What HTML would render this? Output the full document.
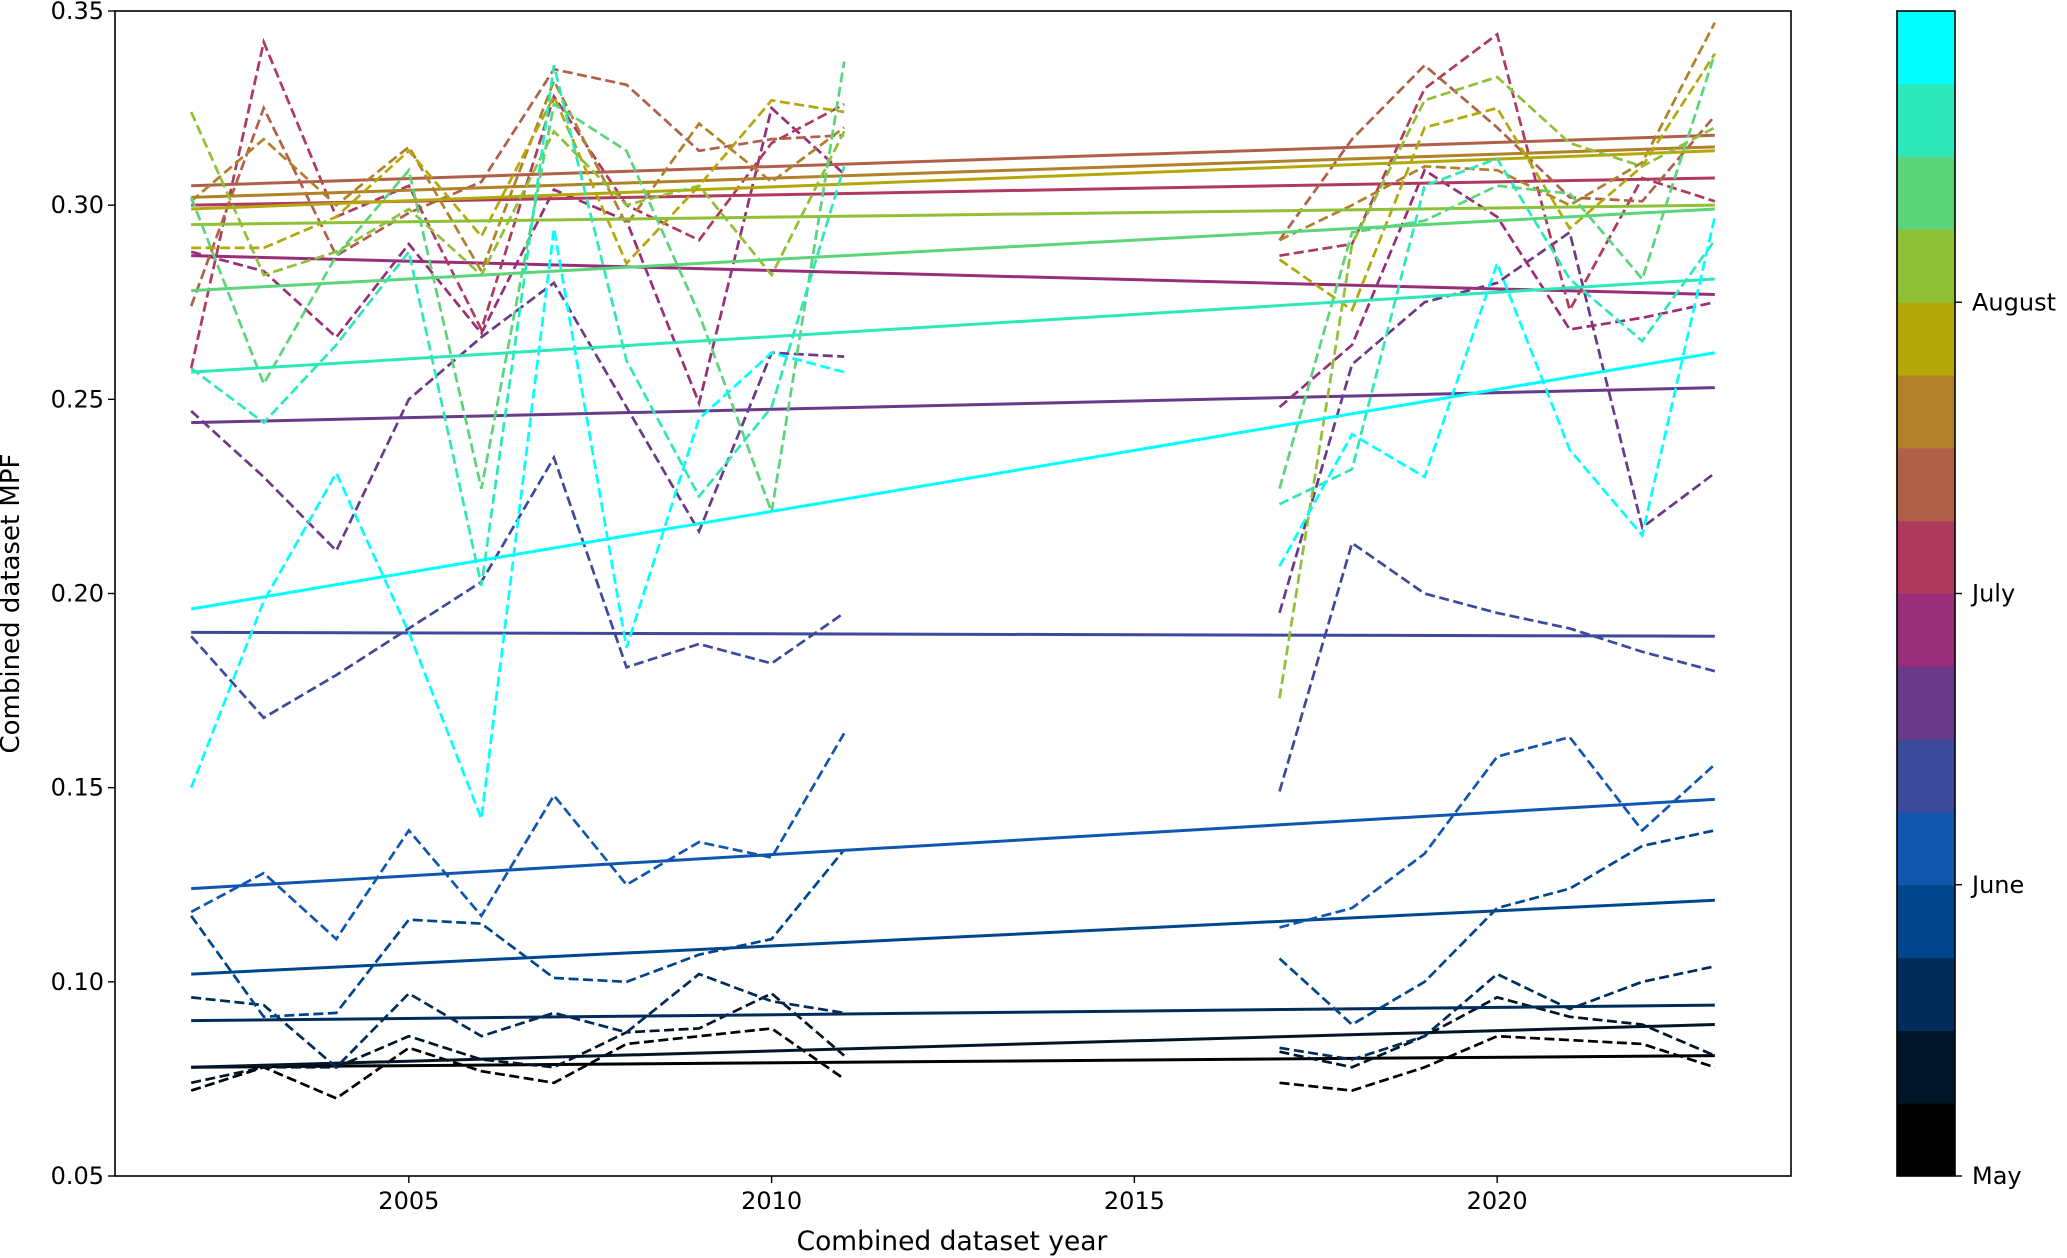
<!DOCTYPE html>
<html><head><meta charset="utf-8"><style>
body{margin:0;background:#fff;}
svg{display:block;font-family:"DejaVu Sans","Liberation Sans",sans-serif;}
</style></head><body>
<svg id="chart" width="2067" height="1258" viewBox="0 0 2067 1258"></svg>
<script>
const yearsA=[2002,2003,2004,2005,2006,2007,2008,2009,2010,2011];
const yearsB=[2017,2018,2019,2020,2021,2022,2023];
const seriesNames=["may-w1","may-w2","may-w3","may-w4","june-w1","june-w2","june-w3","june-w4","july-w1","july-w2","july-w3","july-w4","aug-w1","aug-w2","aug-w3","aug-w4"];
const seriesColors=["#000000","#001628","#002c5a","#00468c","#1055ae","#3d4a9c","#6a3a8a","#982e78","#b03a5e","#b06048","#b0802a","#b3a70a","#90c035","#5bd47a","#2de8b9","#00ffff"];
const valsA=[
[0.072,0.078,0.070,0.083,0.077,0.074,0.084,0.086,0.088,0.075],
[0.074,0.078,0.078,0.086,0.080,0.078,0.087,0.088,0.097,0.081],
[0.096,0.094,0.078,0.097,0.086,0.092,0.087,0.102,0.095,0.092],
[0.117,0.091,0.092,0.116,0.115,0.101,0.100,0.107,0.111,0.134],
[0.118,0.128,0.111,0.139,0.117,0.148,0.125,0.136,0.132,0.164],
[0.189,0.168,0.179,0.191,0.203,0.235,0.181,0.187,0.182,0.195],
[0.247,0.230,0.211,0.250,0.266,0.280,0.248,0.216,0.262,0.261],
[0.288,0.283,0.266,0.290,0.267,0.304,0.296,0.249,0.325,0.308],
[0.258,0.342,0.297,0.305,0.268,0.328,0.300,0.291,0.316,0.326],
[0.274,0.325,0.287,0.298,0.306,0.335,0.331,0.314,0.317,0.318],
[0.301,0.317,0.300,0.315,0.283,0.332,0.295,0.321,0.306,0.320],
[0.289,0.289,0.297,0.314,0.292,0.328,0.285,0.305,0.327,0.324],
[0.324,0.282,0.288,0.299,0.282,0.319,0.300,0.305,0.282,0.319],
[0.302,0.254,0.287,0.309,0.227,0.326,0.314,0.272,0.221,0.337],
[0.258,0.244,0.264,0.288,0.202,0.336,0.260,0.225,0.248,0.310],
[0.150,0.198,0.231,0.190,0.142,0.294,0.186,0.245,0.262,0.257]
];
const valsB=[
[0.074,0.072,0.078,0.086,0.085,0.084,0.078],
[0.082,0.078,0.086,0.096,0.091,0.089,0.081],
[0.083,0.080,0.086,0.102,0.093,0.100,0.104],
[0.106,0.089,0.100,0.119,0.124,0.135,0.139],
[0.114,0.119,0.133,0.158,0.163,0.139,0.156],
[0.149,0.213,0.200,0.195,0.191,0.185,0.180],
[0.195,0.259,0.275,0.280,0.293,0.217,0.231],
[0.248,0.264,0.309,0.297,0.268,0.271,0.275],
[0.287,0.290,0.330,0.344,0.273,0.307,0.301],
[0.291,0.317,0.336,0.320,0.302,0.301,0.323],
[0.291,0.300,0.310,0.309,0.300,0.311,0.347],
[0.286,0.273,0.320,0.325,0.294,0.310,0.339],
[0.173,0.290,0.327,0.333,0.316,0.310,0.320],
[0.227,0.293,0.296,0.305,0.303,0.281,0.339],
[0.223,0.232,0.305,0.312,0.281,0.265,0.291],
[0.207,0.241,0.230,0.285,0.237,0.215,0.297]
];
const trendStart=[0.078,0.078,0.090,0.102,0.124,0.190,0.244,0.287,0.300,0.305,0.302,0.299,0.295,0.278,0.257,0.196];
const trendEnd=[0.081,0.089,0.094,0.121,0.147,0.189,0.253,0.277,0.307,0.318,0.315,0.314,0.300,0.299,0.281,0.262];
const yTicks=[0.05,0.10,0.15,0.20,0.25,0.30,0.35];
const xTicks=[2005,2010,2015,2020];
const cbLabels=["May","June","July","August"];

const L=115,R=1791,T=11,B=1176;
const xMin=2000.95,xMax=2024.05,yMin=0.05,yMax=0.35;
const X=v=>L+(v-xMin)/(xMax-xMin)*(R-L);
const Y=v=>B-(v-yMin)/(yMax-yMin)*(B-T);
const NS="http://www.w3.org/2000/svg";
const svg=document.getElementById('chart');
function mk(tag,attrs,parent){const e=document.createElementNS(NS,tag);for(const k in attrs)e.setAttribute(k,attrs[k]);(parent||svg).appendChild(e);return e;}

const clip=mk('clipPath',{id:'plotclip'});
mk('rect',{x:L,y:T,width:R-L,height:B-T},clip);
const plot=mk('g',{'clip-path':'url(#plotclip)'});



for(let i=0;i<seriesNames.length;i++){
  const c=seriesColors[i];
  const p1=mk('polyline',{points:yearsA.map((yr,j)=>X(yr)+','+Y(valsA[i][j])).join(' '),fill:'none',stroke:c,'stroke-width':2.7,'stroke-dasharray':'10,4.5'},plot);
  
  
  const p2=mk('polyline',{points:yearsB.map((yr,j)=>X(yr)+','+Y(valsB[i][j])).join(' '),fill:'none',stroke:c,'stroke-width':2.7,'stroke-dasharray':'10,4.5'},plot);
  
  
  const t=mk('line',{x1:X(2002),y1:Y(trendStart[i]),x2:X(2023),y2:Y(trendEnd[i]),stroke:c,'stroke-width':3},plot);
  
  
}

const frame=mk('rect',{x:L,y:T,width:R-L,height:B-T,fill:'none',stroke:'#000','stroke-width':1.6});



yTicks.forEach(v=>{
  const tk=mk('line',{x1:L-7,x2:L,y1:Y(v),y2:Y(v),stroke:'#000','stroke-width':1.4});
  
  
  const tx=mk('text',{x:L-11,y:Y(v)+8,'text-anchor':'end','font-size':24,fill:'#000'});
  tx.textContent=v.toFixed(2);
  
  
});
xTicks.forEach(v=>{
  const tk=mk('line',{x1:X(v),x2:X(v),y1:B,y2:B+7,stroke:'#000','stroke-width':1.4});
  
  
  const tx=mk('text',{x:X(v),y:B+33,'text-anchor':'middle','font-size':24,fill:'#000'});
  tx.textContent=v;
  
  
});
const xt=mk('text',{x:(L+R)/2-1,y:1250,'text-anchor':'middle','font-size':26.5,fill:'#000'});
xt.textContent='Combined dataset year';


const yt=mk('text',{x:0,y:0,'text-anchor':'middle','font-size':26,fill:'#000',transform:'translate(19,'+((T+B)/2+10)+') rotate(-90)'});
yt.textContent='Combined dataset MPF';



// colorbar
const CL=1897,CR=1955;
const bandH=(B-T)/16;
const cb=mk('g',{});


for(let i=0;i<16;i++){
  const r=mk('rect',{x:CL,y:B-(i+1)*bandH,width:CR-CL,height:bandH+0.5,fill:seriesColors[i]},cb);
  
  
}
const cbf=mk('rect',{x:CL,y:T,width:CR-CL,height:B-T,fill:'none',stroke:'#000','stroke-width':1.6},cb);


cbLabels.forEach((lab,i)=>{
  const yy=B-i*4*bandH;
  const tk=mk('line',{x1:CR,x2:CR+7,y1:yy,y2:yy,stroke:'#000','stroke-width':1.4},cb);
  
  
  const tx=mk('text',{x:CR+17,y:yy+8,'font-size':24,fill:'#000'},cb);
  tx.textContent=lab;
  
  
});
</script>
</body></html>
